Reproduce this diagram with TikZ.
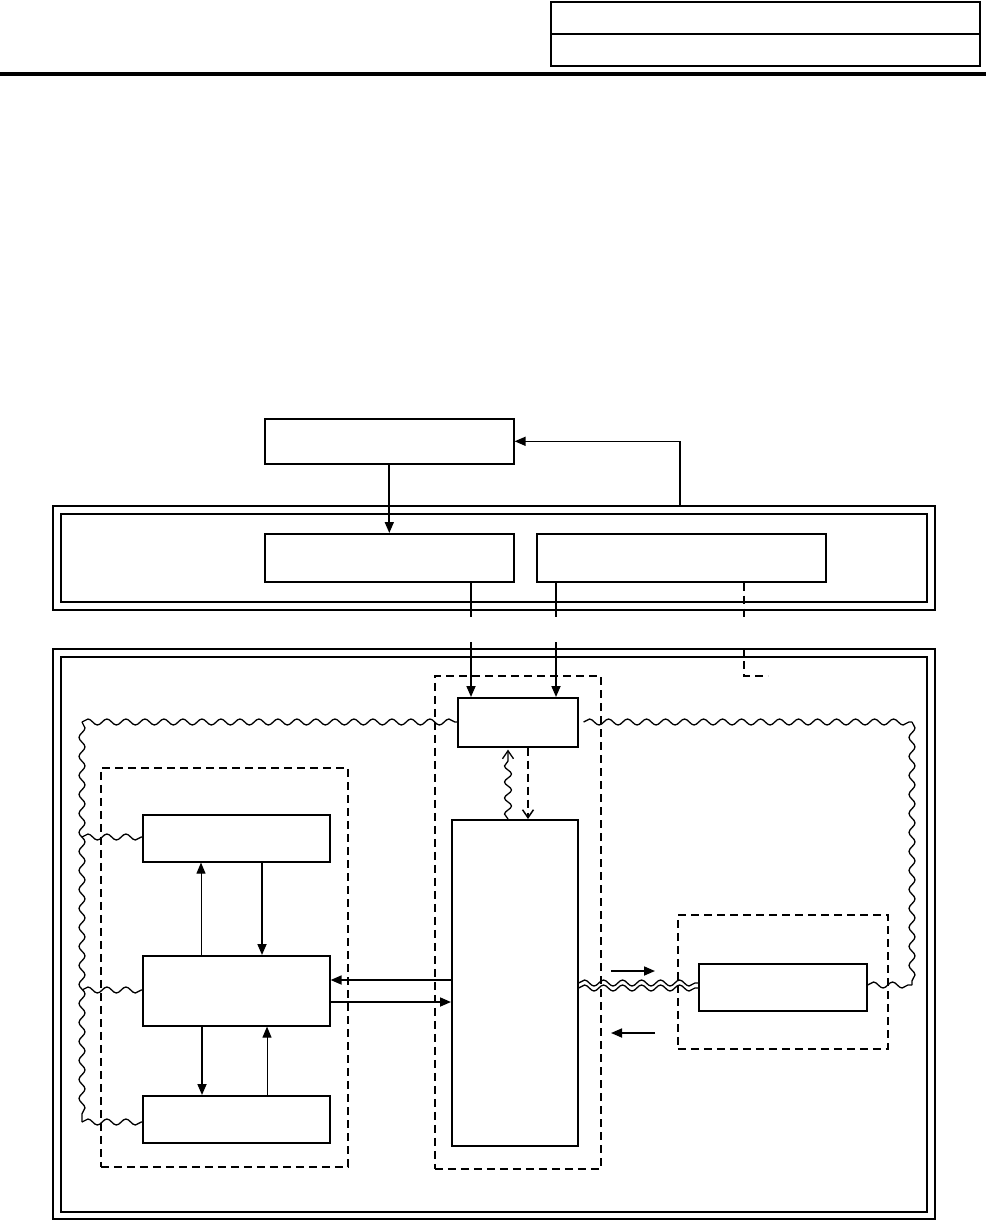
\documentclass[tikz,border=0pt]{standalone}
\usetikzlibrary{arrows.meta,decorations.pathmorphing,calc}
\begin{document}
\begin{tikzpicture}[x=1pt,y=-1pt,
 box/.style={draw,line width=1.6pt,inner sep=0pt,anchor=north west},
 frame/.style={draw,line width=1.9pt,inner sep=0pt,anchor=north west},
 dbox/.style={draw,line width=1.5pt,dash pattern=on 8pt off 5pt,inner sep=0pt,anchor=north west},
 arr/.style={line width=1.7pt,-{Triangle[length=11pt,width=9pt]}},
 tarr/.style={line width=1pt,-{Triangle[length=11pt,width=9pt]}},
 plain/.style={line width=1.5pt},
 dline/.style={line width=1.5pt,dash pattern=on 8pt off 5pt},
 wave/.style={line width=1.3pt,decorate,decoration={snake,amplitude=3pt,segment length=19pt}},
 oarr/.style={-{Straight Barb[length=8pt,width=11pt]}},
]
\useasboundingbox (0,0) rectangle (986,1220);
% header
\node[box,line width=1.7pt,minimum width=429pt,minimum height=64pt] (hdr) at (550,1) {};
\draw[line width=2.3pt] (hdr.west) -- (hdr.east);
\draw[line width=3.8pt] (0,74) -- (986,74);
% top block
\node[box,minimum width=249pt,minimum height=45pt] (A) at (264,418) {};
\node[frame,minimum width=882pt,minimum height=104pt] (b1o) at (52,505) {};
\node[frame,minimum width=866pt,minimum height=88pt] (b1i) at (60,513) {};
\node[box,minimum width=249pt,minimum height=48pt] (B) at (264,533) {};
\node[box,minimum width=289pt,minimum height=48pt] (C) at (536,533) {};
% bottom frame
\node[frame,minimum width=882pt,minimum height=570pt] (b2o) at (52,648) {};
\node[frame,minimum width=866pt,minimum height=555pt] (b2i) at (60,656) {};
\node[dbox,minimum width=166pt,minimum height=493pt] (E) at (434,675) {};
\node[box,minimum width=120pt,minimum height=49pt] (D) at (457,697) {};
\node[box,minimum width=126pt,minimum height=326pt] (F) at (451,819) {};
\node[dbox,minimum width=247pt,minimum height=399pt] (G) at (100,767) {};
\node[box,minimum width=187pt,minimum height=47pt] (H1) at (142,814) {};
\node[box,minimum width=187pt,minimum height=70pt] (H2) at (142,955) {};
\node[box,minimum width=187pt,minimum height=47pt] (H3) at (142,1095) {};
\node[dbox,minimum width=210pt,minimum height=134pt] (J) at (677,914) {};
\node[box,minimum width=168pt,minimum height=47pt] (K) at (698,963) {};
% top connectors
\draw[arr] (A.south) -- (B.north);
\coordinate (p680) at (680,505);
\draw[plain,-{Triangle[length=11pt,width=9pt]}] (p680) |- (A.east);
\coordinate (u1) at (471,617); \coordinate (v1) at (471,642);
\coordinate (u2) at (556,617); \coordinate (v2) at (556,642);
\coordinate (u3) at (744,617); \coordinate (v3) at (744,648);
\coordinate (w3) at (744,676); \coordinate (z3) at (768,676);
\draw[plain] (u1 |- B.south) -- (u1);
\draw[arr] (v1) -- (v1 |- D.north);
\draw[plain] (u2 |- C.south) -- (u2);
\draw[arr] (v2) -- (v2 |- D.north);
\draw[dline] (u3 |- C.south) -- (u3);
\draw[dline] (v3) -- (w3) -- (z3);
% D <-> F
\coordinate (s1) at (508,0); \coordinate (s2) at (528,0);
\draw[line width=1.3pt,oarr,decorate,decoration={snake,amplitude=3.5pt,segment length=16pt,post length=5pt}] (F.north -| s1) -- ($(D.south -| s1)+(0,2)$);
\draw[dline,oarr] (D.south -| s2) -- (F.north -| s2);
% left group arrows
\coordinate (x201) at (201,0); \coordinate (x262) at (262,0);
\coordinate (x202) at (202,0); \coordinate (x267) at (267,0);
\draw[tarr] (H2.north -| x201) -- (H1.south -| x201);
\draw[arr] (H1.south -| x262) -- (H2.north -| x262);
\draw[arr] (H2.south -| x202) -- (H3.north -| x202);
\draw[tarr] (H3.north -| x267) -- (H2.south -| x267);
\coordinate (y980) at (0,980); \coordinate (y1002) at (0,1002);
\draw[arr] (F.west |- y980) -- (H2.east |- y980);
\draw[arr] (H2.east |- y1002) -- (F.west |- y1002);
% free arrows near K
\coordinate (r1) at (611,971); \coordinate (r2) at (655,971);
\coordinate (l1) at (655,1033); \coordinate (l2) at (611,1033);
\draw[arr] (r1) -- (r2);
\draw[arr] (l1) -- (l2);
% wavy lines
\coordinate (wtl) at (82,722); \coordinate (wbl) at (82,1122);
\coordinate (wtr) at (912,722); \coordinate (wbr) at (912,985);
\draw[wave] (wtl) -- (D.west |- wtl);
\draw[wave] ($(D.east |- wtr)+(5,0)$) -- (wtr);
\draw[wave] (wtl) -- (wbl);
\draw[wave] (wtr) -- (wbr);
\coordinate (y837) at (82,837); \coordinate (y990) at (82,990);
\draw[wave] (y837) -- (H1.west |- y837);
\draw[wave] (y990) -- (H2.west |- y990);
\draw[wave] (wbl) -- (H3.west |- wbl);
\draw[wave] (K.east |- wbr) -- (wbr);
\coordinate (y983) at (0,983); \coordinate (y988) at (0,988);
\draw[wave] (F.east |- y983) -- (K.west |- y983);
\draw[wave] (F.east |- y988) -- (K.west |- y988);
\end{tikzpicture}
\end{document}
